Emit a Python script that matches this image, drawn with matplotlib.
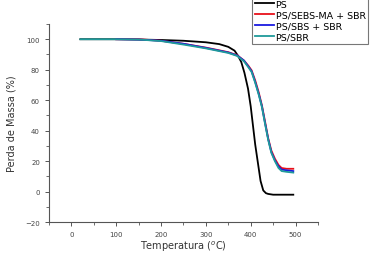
import numpy as np
import matplotlib.pyplot as plt

# temperatures (C) and mass (%)
ps_t = [20, 100, 150, 200, 250, 300, 330, 350, 364, 372, 379, 386, 394, 400, 405, 410, 417, 422, 428, 434, 439, 450, 470, 495]
ps_m = [100, 100, 99.8, 99.5, 99, 98, 96.8, 95, 92.5, 89, 85, 78, 67.6, 56, 43.5, 31, 17, 7, 0.8, -1, -1.5, -2, -2, -2]

blend_t = [20, 100, 150, 200, 250, 300, 350, 370, 385, 395, 402, 410, 418, 425, 432, 439, 446, 454, 462, 469, 480, 495]
sebs_m = [100, 100, 100, 99, 97, 94.5, 91.5, 89.5, 86, 82.5, 79.6, 73, 65, 56.6, 46, 35, 27, 21.6, 17.5, 15.5, 15, 15]
sbs_m = [100, 100, 99.8, 99, 97, 94.3, 91.3, 89.3, 86, 82, 79, 72, 64, 56, 45, 34.5, 26, 20.5, 16.5, 14.5, 14, 13.5]
sbr_m = [100, 100, 99.8, 98.8, 96.5, 94, 91, 89, 85.5, 81.5, 78.5, 71.5, 63.5, 55.5, 44.5, 34, 25.5, 20, 15.5, 13.5, 13, 12.5]

sebs_start = 85
sbs_start = 100

fig = plt.figure(figsize=(3.71, 2.55), dpi=100)
ax = fig.add_axes([0.132, 0.125, 0.725, 0.777])

def cut(t, m, t0):
    t = np.array(t, dtype=float)
    m = np.array(m, dtype=float)
    keep = t >= t0
    return t[keep], m[keep]

ax.plot(ps_t, ps_m, color='black', lw=1.3, label='PS')
x, y = cut(blend_t, sebs_m, sebs_start)
ax.plot(x, y, color='#e8101a', lw=1.3, label='PS/SEBS-MA + SBR')
x, y = cut(blend_t, sbs_m, sbs_start)
ax.plot(x, y, color='#1a1ae0', lw=1.3, label='PS/SBS + SBR')
ax.plot(blend_t, sbr_m, color='#1f9a9a', lw=1.3, label='PS/SBR')

ax.set_xlim(-50, 550)
ax.set_ylim(-20, 110)
ax.set_xticks([0, 100, 200, 300, 400, 500])
ax.set_xticks(np.arange(-50, 551, 50), minor=True)
ax.set_yticks([-20, 0, 20, 40, 60, 80, 100])
ax.set_yticks(np.arange(-20, 111, 10), minor=True)
ax.spines['top'].set_visible(False)
ax.spines['right'].set_visible(False)
for s in ['left', 'bottom']:
    ax.spines[s].set_color('#555555')
    ax.spines[s].set_linewidth(0.8)
ax.tick_params(which='both', direction='out', colors='#555555', labelsize=5, labelcolor='#444444')
ax.tick_params(which='major', length=3, width=0.7)
ax.tick_params(which='minor', length=2, width=0.6)

ax.set_xlabel('Temperatura ($^{o}$C)', fontsize=7, color='#333333', labelpad=1)
ax.set_ylabel('Perda de Massa (%)', fontsize=7, color='#333333', labelpad=6)

leg = fig.legend(loc='upper left', bbox_to_anchor=(0.679, 1.008), fontsize=6.8,
                 frameon=True, fancybox=False, edgecolor='#555555', handlelength=2.0,
                 handletextpad=0.2, borderpad=0.3, labelspacing=0.2, borderaxespad=0)
leg.get_frame().set_linewidth(0.8)

fig.savefig('out.png', dpi=100)
